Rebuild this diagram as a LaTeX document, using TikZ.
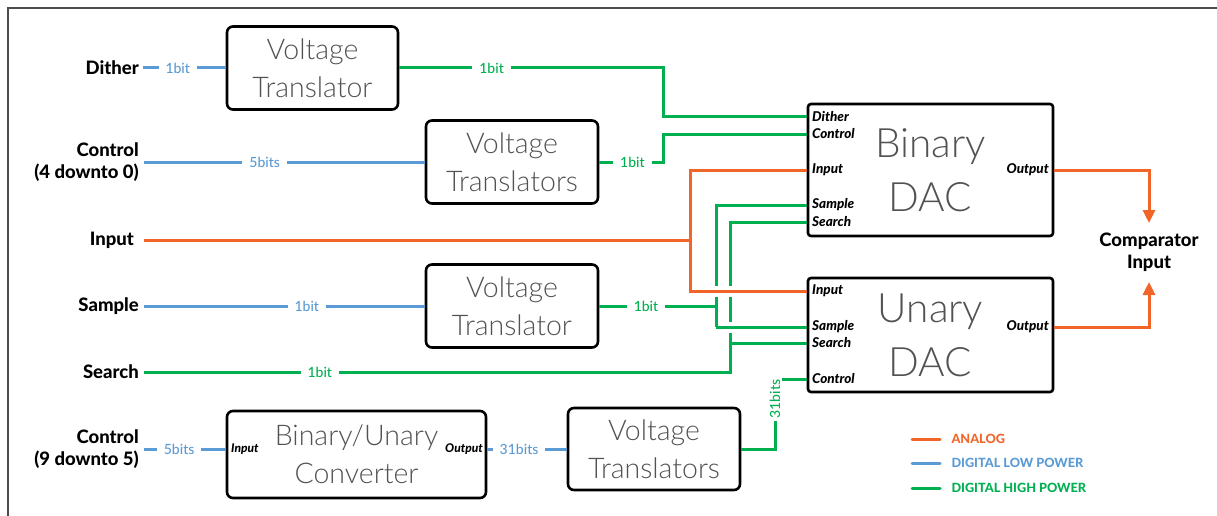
\documentclass[tikz,border=0pt]{standalone}
\usepackage{fontspec}
\setmainfont{Lato}[BoldFont={* Heavy}, BoldItalicFont={* Heavy Italic}]
\newfontfamily\thinf{Lato Light}
\newfontfamily\medf{Lato Medium}
\usetikzlibrary{arrows.meta}
\definecolor{anaC}{RGB}{241,101,41}
\definecolor{lowC}{RGB}{91,155,213}
\definecolor{highC}{RGB}{0,176,80}
\tikzset{
 blk/.style={draw=black, line width=2.6pt, rounded corners=6pt, align=center, inner sep=0pt, text=black!68, font=\thinf\fontsize{28.5}{38}\selectfont},
 dac/.style={blk, rounded corners=3pt, font=\thinf\fontsize{40.5}{54}\selectfont},
 sig/.style={font=\bfseries\fontsize{18.5}{22}\selectfont, align=right, inner sep=0pt},
 port/.style={font=\bfseries\itshape\fontsize{13.5}{15}\selectfont, inner sep=0pt},
 wa/.style={anaC, line width=3pt},
 wl/.style={lowC, line width=3pt},
 wh/.style={highC, line width=3pt},
 bitl/.style={fill=white, text=lowC, font=\medf\fontsize{14}{16}\selectfont, inner xsep=7pt, inner ysep=2pt},
 bith/.style={fill=white, text=highC, font=\medf\fontsize{14}{16}\selectfont, inner xsep=7pt, inner ysep=2pt},
 hop/.style={white, line width=11pt},
 leg/.style={font=\bfseries\fontsize{12.7}{14}\selectfont, anchor=west, inner sep=0pt},
 tip/.style={-{Triangle[length=13pt,width=12pt]}},
}
\begin{document}
\begin{tikzpicture}[x=1pt,y=-1pt]
\useasboundingbox (0,0) rectangle (1217,516);
\draw[black!70, line width=1.5pt] (8,516) -- (8,8) -- (1217,8);

% signal labels
\node[sig, anchor=east] (dither) at (139,68) {Dither};
\node[sig, anchor=east] (ctrlA) at (139,162) {Control\\(4 downto 0)};
\node[sig, anchor=east] (input) at (134,240) {Input};
\node[sig, anchor=east] (sample) at (139,306) {Sample};
\node[sig, anchor=east] (search) at (139,372) {Search};
\node[sig, anchor=east] (ctrlB) at (139,449) {Control\\(9 downto 5)};

% blocks
\node[blk, minimum width=171pt, minimum height=83pt] (vt1) at (312.5,68) {Voltage\\Translator};
\node[blk, minimum width=172pt, minimum height=83pt] (vt2) at (512,162) {Voltage\\Translators};
\node[blk, minimum width=172pt, minimum height=83pt] (vt3) at (512,306) {Voltage\\Translator};
\node[blk, minimum width=259pt, minimum height=87pt] (conv) at (356.5,454.5) {Binary/Unary\\Converter};
\node[blk, minimum width=172pt, minimum height=82pt] (vt4) at (654,449) {Voltage\\Translators};
\node[dac, minimum width=245pt, minimum height=132pt] (bdac) at (930.5,170) {Binary\\DAC};
\node[dac, minimum width=245pt, minimum height=114pt] (udac) at (930.5,335) {Unary\\DAC};

% port labels
\node[port, anchor=west] (bdDither) at (812,117) {Dither};
\node[port, anchor=west] (bdControl) at (812,134) {Control};
\node[port, anchor=west] (bdInput) at (812,170) {Input};
\node[port, anchor=west] (bdSample) at (812,205) {Sample};
\node[port, anchor=west] (bdSearch) at (812,222) {Search};
\node[port, anchor=east] (bdOut) at (1049,170) {Output};
\node[port, anchor=west] (udInput) at (812,291) {Input};
\node[port, anchor=west] (udSample) at (812,327) {Sample};
\node[port, anchor=west] (udSearch) at (812,343) {Search};
\node[port, anchor=west] (udControl) at (812,379) {Control};
\node[port, anchor=east] (udOut) at (1049,327) {Output};
\node[port, anchor=west, font=\bfseries\itshape\fontsize{12}{13}\selectfont] (cvIn) at (231,449) {Input};
\node[port, anchor=east, font=\bfseries\itshape\fontsize{12}{13}\selectfont] (cvOut) at (483,449) {Output};

\node[sig, align=center] (cmp) at (1149,252) {Comparator\\Input};
\coordinate (cmpTop) at (1149,223);
\coordinate (cmpBot) at (1149,282);

% low power wires
\draw[wl] ([xshift=4pt]dither.east) -- node[bitl,pos=.42]{1bit} (vt1.west);
\draw[wl] ([xshift=5pt]ctrlA.east) -- node[bitl,pos=.43]{5bits} (vt2.west);
\draw[wl] ([xshift=5pt]sample.east) -- node[bitl,pos=.58]{1bit} (vt3.west);
\draw[wl] ([xshift=5pt]ctrlB.east) -- node[bitl,pos=.43]{5bits} (conv.west |- ctrlB.east);
\draw[wl] (conv.east |- vt4.west) -- node[bitl,pos=.4]{31bits} (vt4.west);

% high power wires
\draw[wh] (vt1.east) -- node[bith,pos=.35]{1bit} (663,68) |- (bdac.west |- bdDither);
\draw[wh] (vt2.east) -- node[bith,pos=.52]{1bit} (663,162) |- (bdac.west |- bdControl);
\draw[wh] (bdac.west |- bdSample) -| (716,327);
\draw[wh] (vt3.east) -- node[bith,pos=.4]{1bit} (716,306);
\draw[wh] ([xshift=5pt]search.east) -- node[bith,pos=.3]{1bit} (730,372) |- (bdac.west |- bdSearch);
\draw[wh] (730,343) -- (udac.west |- udSearch);
\draw[hop] (723,327) -- (800,327);
\draw[wh] (716,327) -- (udac.west |- udSample);
\draw[wh] (vt4.east) -| (775,379) -- (udac.west |- udControl);
\node[bith, rotate=90, inner xsep=3pt] (lbl31) at (775,399) {31bits};

% analog wires
\draw[wa] ([xshift=10pt]input.east) -- (690,240);
\draw[hop] (697,291) -- (800,291);
\draw[wa] (bdac.west |- bdInput) -| (690,291) -- (udac.west |- udInput);
\draw[wa, tip] (bdac.east |- bdOut) -| (cmpTop);
\draw[wa, tip] (udac.east |- udOut) -| (cmpBot);

% legend
\coordinate (lgA) at (912,439);
\coordinate (lgB) at (912,463);
\coordinate (lgC) at (912,488);
\draw[anaC, line width=3pt, line cap=round] (lgA) -- ++(28,0) node[leg, text=anaC, xshift=10pt] (lgTa) {ANALOG};
\draw[lowC, line width=3pt, line cap=round] (lgB) -- ++(28,0) node[leg, text=lowC, xshift=10pt] (lgTb) {DIGITAL LOW POWER};
\draw[highC, line width=3pt, line cap=round] (lgC) -- ++(28,0) node[leg, text=highC, xshift=10pt] (lgTc) {DIGITAL HIGH POWER};
\end{tikzpicture}
\end{document}
